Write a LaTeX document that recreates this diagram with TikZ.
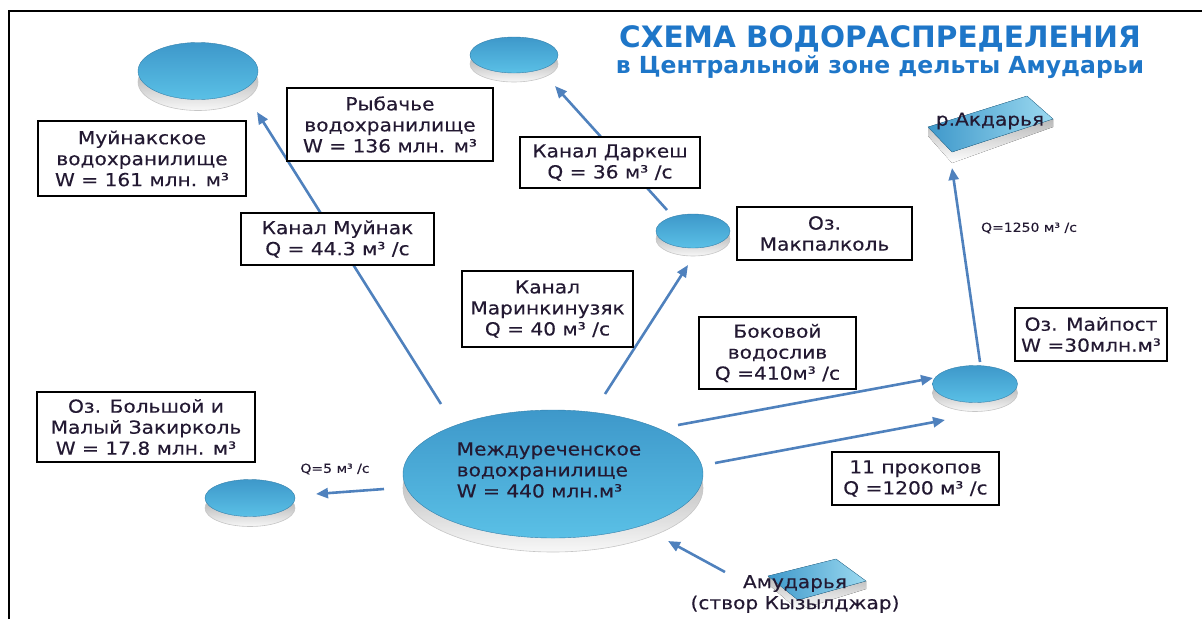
\documentclass[tikz,border=0pt]{standalone}
\usepackage{fontspec}
\setmainfont{DejaVu Sans}
\newfontfamily\vfont{DejaVu Sans}[FakeStretch=1.12,FakeBold=0.3]
\usetikzlibrary{shapes.geometric,arrows.meta,shadows}
\definecolor{arrowblue}{RGB}{79,129,189}
\definecolor{titleblue}{RGB}{30,118,200}
\definecolor{lakeA}{RGB}{62,152,202}
\definecolor{lakeB}{RGB}{90,192,230}
\definecolor{txt}{RGB}{35,25,50}
\begin{document}
\begin{tikzpicture}[x=1pt,y=-1pt,
 infobox/.style={draw=black, line width=1.3pt, fill=white, align=center, text=txt, font=\vfont\fontsize{18}{21}\selectfont, inner sep=0pt, drop shadow={shadow xshift=1.3pt, shadow yshift=-1.3pt, fill=gray!70, opacity=1}},
 plain/.style={align=center, text=txt, font=\vfont\fontsize{18}{21}\selectfont, inner sep=0pt},
 lake/.style={ellipse, inner sep=0pt, draw=lakeA!85!black, line width=0.4pt, top color=lakeA, bottom color=lakeB},
 rim/.style={ellipse, inner sep=0pt, draw=gray!45, line width=0.6pt, top color=gray!80, bottom color=gray!6},
 flow/.style={draw=arrowblue, line width=2.6pt, -{Triangle[length=12pt,width=10pt]}},
 small/.style={font=\vfont\fontsize{12.5}{14}\selectfont, text=txt, inner sep=0pt},
]
\useasboundingbox (0,0) rectangle (1202,619);
% frame
\draw[line width=2.4pt] (9,619) -- (9,11) -- (1202,11);

% title
\node[anchor=base, font=\bfseries\fontsize{29.5}{32}\selectfont, text=titleblue] (t1) at (880,47) {СХЕМА ВОДОРАСПРЕДЕЛЕНИЯ};
\node[anchor=base, font=\bfseries\fontsize{23.5}{26}\selectfont, text=titleblue] (t2) at (880,73) {в Центральной зоне дельты Амударьи};

% lakes
\node[rim, minimum width=300pt, minimum height=128pt] (cR) at (553,488) {};
\node[lake, minimum width=300pt, minimum height=128pt] (c) at (553,474) {};
\node[rim, minimum width=120pt, minimum height=57pt] (muR) at (198,82) {};
\node[lake, minimum width=120pt, minimum height=57pt] (mu) at (198,71) {};
\node[rim, minimum width=88pt, minimum height=36pt] (ryR) at (514,64) {};
\node[lake, minimum width=88pt, minimum height=36pt] (ry) at (514,55) {};
\node[rim, minimum width=74pt, minimum height=34pt] (mkR) at (693,239) {};
\node[lake, minimum width=74pt, minimum height=34pt] (mk) at (693,231) {};
\node[rim, minimum width=85pt, minimum height=37pt] (mpR) at (975,393) {};
\node[lake, minimum width=85pt, minimum height=37pt] (mp) at (975,384) {};
\node[rim, minimum width=90pt, minimum height=37pt] (zaR) at (250,508) {};
\node[lake, minimum width=90pt, minimum height=37pt] (za) at (250,498) {};

% tiles
\fill[top color=gray!55, bottom color=white] (928,127) -- (952,152) -- (1053,119) -- (1053,127) -- (952,163) -- (928,136) -- cycle;
\fill[left color=lakeA, right color=lakeB!60!white, draw=lakeA!80!black, line width=0.3pt] (928,127) -- (1027,96) -- (1053,119) -- (952,152) -- cycle;
\fill[top color=gray!55, bottom color=white] (768,576) -- (798,600) -- (866,581) -- (866,589) -- (798,610) -- (768,584) -- cycle;
\fill[left color=lakeA, right color=lakeB!60!white, draw=lakeA!80!black, line width=0.3pt] (768,576) -- (836,559) -- (866,581) -- (798,600) -- cycle;

% connector end points
\coordinate (a1s) at (441,404); \coordinate (a1e) at (257,112);
\coordinate (a2s) at (605,394); \coordinate (a2e) at (688,265);
\coordinate (a3s) at (667,210); \coordinate (a3e) at (555,86);
\coordinate (a4s) at (678,425); \coordinate (a4e) at (933,378);
\coordinate (a5s) at (715,463); \coordinate (a5e) at (945,420);
\coordinate (a6s) at (980,362); \coordinate (a6e) at (952,168);
\coordinate (a7s) at (725,572); \coordinate (a7e) at (668,541);
\coordinate (a8s) at (384,489); \coordinate (a8e) at (316,494);
\draw[flow] (a1s) -- (a1e);
\draw[flow] (a2s) -- (a2e);
\draw[flow] (a3s) -- (a3e);
\draw[flow] (a4s) -- (a4e);
\draw[flow] (a5s) -- (a5e);
\draw[flow] (a6s) -- (a6e);
\draw[flow] (a7s) -- (a7e);
\draw[flow] (a8s) -- (a8e);

% boxes
\node[infobox, minimum width=208pt, minimum height=75pt] (bMu) at (142,158.5) {Муйнакское\\водохранилище\\W = 161 млн. м³};
\node[infobox, minimum width=206pt, minimum height=73pt] (bRy) at (390,124.5) {Рыбачье\\водохранилище\\W = 136 млн. м³};
\node[infobox, minimum width=193pt, minimum height=52pt] (bKM) at (337.5,239) {Канал Муйнак\\Q = 44.3 м³ /с};
\node[infobox, minimum width=171pt, minimum height=76pt] (bMa) at (547.5,309) {Канал\\Маринкинузяк\\Q = 40 м³ /с};
\node[infobox, minimum width=180pt, minimum height=51pt] (bDa) at (610,162.5) {Канал Даркеш\\Q = 36 м³ /с};
\node[infobox, minimum width=175pt, minimum height=53pt] (bMk) at (824.5,233.5) {Оз.\\Макпалколь};
\node[infobox, minimum width=157pt, minimum height=72pt] (bBo) at (777.5,353) {Боковой\\водослив\\Q =410м³ /с};
\node[infobox, minimum width=152pt, minimum height=53pt] (bMp) at (1091,334.5) {Оз. Майпост\\W =30млн.м³};
\node[infobox, minimum width=218pt, minimum height=70pt] (bZa) at (146,427) {Оз. Большой и\\Малый Закирколь\\W = 17.8 млн. м³};
\node[infobox, minimum width=167pt, minimum height=53pt] (bPr) at (915.5,478.5) {11 прокопов\\Q =1200 м³ /с};

% texts on shapes
\node[plain, align=left] (ct) at (549,470) {Междуреченское\\водохранилище\\W = 440 млн.м³};
\node[plain] (ak) at (990,121) {р.Акдарья};
\node[plain] (am) at (795,594) {Амударья\\(створ Кызылджар)};
\node[small] (q5) at (335,469) {Q=5 м³ /с};
\node[small] (q1250) at (1029,228) {Q=1250 м³ /с};
\end{tikzpicture}
\end{document}
